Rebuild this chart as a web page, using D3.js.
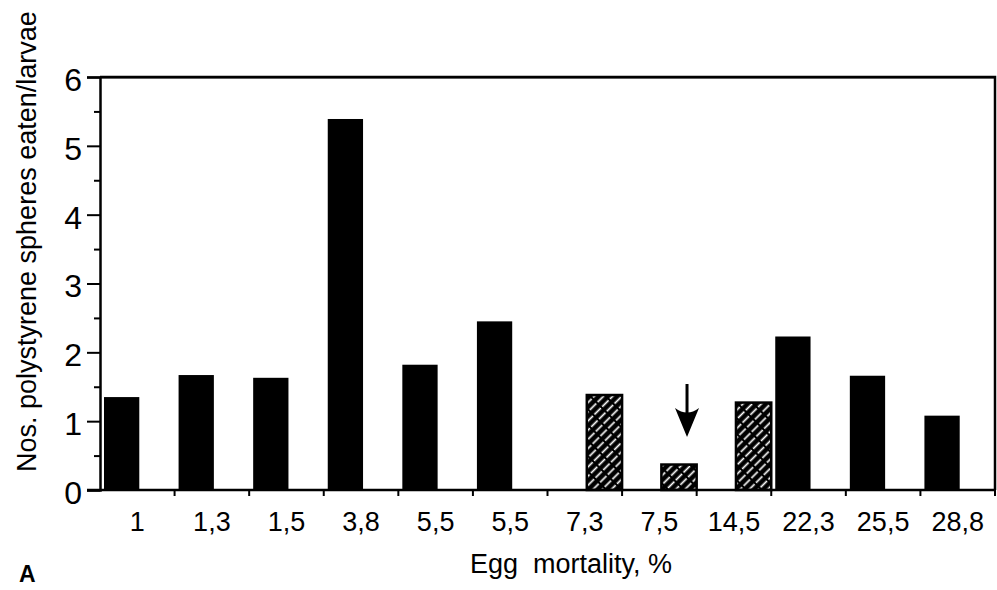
<!DOCTYPE html>
<html lang="en">
  <head>
    <meta charset="UTF-8" />
    <title>Egg mortality vs polystyrene spheres eaten</title>
    <script src="https://d3js.org/d3.v7.min.js"></script>
    <style>
      body { margin: 0; background: #fff; }
      svg text { font-family: "Liberation Sans", Arial, sans-serif; fill: #000; }
    </style>
  </head>
  <body>
    <svg id="chart" width="997" height="590"></svg>

    <script>
      // values
      const mortality = ["1", "1,3", "1,5", "3,8", "5,5", "5,5", "7,3", "7,5", "14,5", "22,3", "25,5", "28,8"];
      const spheres = [1.35, 1.67, 1.63, 5.39, 1.82, 2.45, 1.38, 0.37, 1.27, 2.23, 1.66, 1.08];
      const barType = ["solid", "solid", "solid", "solid", "solid", "solid",
        "hatched", "hatched", "hatched", "solid", "solid", "solid"];
      const yTicks = [0, 1, 2, 3, 4, 5, 6];
      const yMinorTicks = [0.5, 1.5, 2.5, 3.5, 4.5, 5.5];
      // arrow above the 7,5 bar (from / to in y units)
      const arrow = { index: 7, from: 1.54, to: 0.77 };

      const margin = { top: 77, right: 2, bottom: 100, left: 100 },
        width = 997 - margin.left - margin.right,
        height = 590 - margin.top - margin.bottom;

      const svg = d3.select("#chart");
      const g = svg.append("g")
        .attr("transform", `translate(${margin.left},${margin.top})`);

      const x = d3.scaleBand().domain(d3.range(mortality.length)).range([0, width]);
      const x1 = d3.scaleBand().domain(["solid", "hatched"]).range([4, x.bandwidth()]);
      const y = d3.scaleLinear().domain([0, 6]).range([height, 0]);

      // hatch pattern: black with white dashed diagonals (/)
      const pat = svg.append("defs").append("pattern")
        .attr("id", "hatch")
        .attr("patternUnits", "userSpaceOnUse")
        .attr("width", 6.5).attr("height", 11)
        .attr("patternTransform", "rotate(45)");
      pat.append("rect").attr("width", 6.5).attr("height", 11).attr("fill", "#000");
      pat.append("line")
        .attr("x1", 3.25).attr("x2", 3.25).attr("y1", 1).attr("y2", 10)
        .attr("stroke", "#fff").attr("stroke-width", 1.7);

      // bars
      g.selectAll(".bar")
        .data(spheres)
        .enter()
        .append("rect")
        .attr("class", "bar")
        .attr("x", (d, i) => x(i) + x1(barType[i]))
        .attr("y", (d) => y(d))
        .attr("width", x1.bandwidth())
        .attr("height", (d) => y(0) - y(d))
        .attr("fill", (d, i) => (barType[i] === "hatched" ? "url(#hatch)" : "#000"))
        .attr("stroke", "#000")
        .attr("stroke-width", (d, i) => (barType[i] === "hatched" ? 2.5 : 0));

      // frame (top + right)
      g.append("path")
        .attr("d", `M0,0H${width}V${height}`)
        .attr("fill", "none")
        .attr("stroke", "#000")
        .attr("stroke-width", 2.5);
      g.append("line")
        .attr("x1", 0).attr("x2", width).attr("y1", 0.5).attr("y2", 0.5)
        .attr("stroke", "#000").attr("stroke-width", 2);

      // y axis
      const yAxis = g.append("g")
        .call(d3.axisLeft(y).tickValues(yTicks).tickSize(13).tickPadding(5).tickFormat(d3.format("d")));
      yAxis.selectAll("text").attr("font-size", 32).attr("dy", "0.42em");
      g.append("g")
        .call(d3.axisLeft(y).tickValues(yMinorTicks).tickSize(6).tickFormat(""))
        .call((a) => a.select(".domain").remove());
      g.selectAll(".domain").attr("stroke-width", 2.5);
      g.selectAll(".tick line").attr("stroke-width", 2);

      // x axis: labels at band centres, ticks at band edges
      const xAxis = g.append("g")
        .attr("transform", `translate(0,${height})`)
        .call(d3.axisBottom(x).tickSize(0).tickPadding(22).tickFormat((i) => mortality[i]));
      xAxis.select(".domain").attr("stroke-width", 2.5).attr("d", `M-13,0H${width}`);
      xAxis.selectAll("text").attr("font-size", 27).attr("dy", "0.71em");

      xAxis.selectAll(".edge")
        .data(d3.range(mortality.length))
        .enter()
        .append("line")
        .attr("class", "edge")
        .attr("x1", (i) => x(i) + x.bandwidth())
        .attr("x2", (i) => x(i) + x.bandwidth())
        .attr("y1", 0)
        .attr("y2", 6)
        .attr("stroke", "#000")
        .attr("stroke-width", 2);

      // arrow
      const ax = x(arrow.index) + x1("hatched") + x1.bandwidth() / 2 + 8;
      const yTip = y(arrow.to);
      const yTail = y(arrow.from);
      g.append("line")
        .attr("x1", ax).attr("x2", ax)
        .attr("y1", yTail).attr("y2", yTip - 10)
        .attr("stroke", "#000").attr("stroke-width", 3);
      g.append("path")
        .attr("d", `M${ax},${yTip} L${ax - 12},${yTip - 29} Q${ax},${yTip - 20} ${ax + 12},${yTip - 29} Z`)
        .attr("fill", "#000");

      // titles
      svg.append("text")
        .attr("transform", "translate(36,472) rotate(-90)")
        .attr("font-size", 27)
        .text("Nos. polystyrene spheres eaten/larvae");

      svg.append("text")
        .attr("x", 571)
        .attr("y", 573)
        .attr("text-anchor", "middle")
        .attr("font-size", 27)
        .attr("xml:space", "preserve")
        .style("white-space", "pre")
        .text("Egg  mortality, %");

      svg.append("text")
        .attr("x", 19)
        .attr("y", 582)
        .attr("font-size", 23)
        .attr("font-weight", "bold")
        .text("A");
    </script>
  </body>
</html>
